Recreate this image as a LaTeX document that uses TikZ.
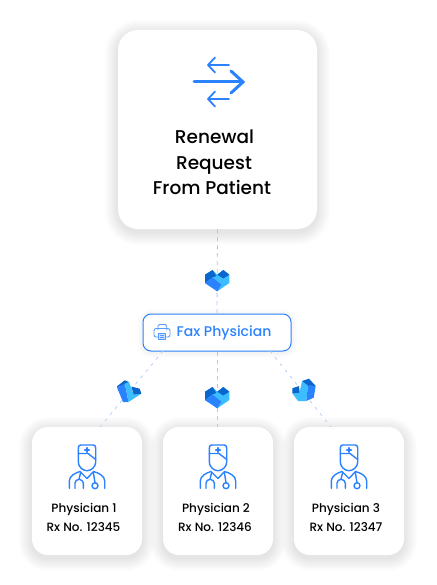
\documentclass[tikz,border=0pt]{standalone}
\usepackage{fontspec}
\setmainfont{Poppins}[UprightFont=* Medium]
\definecolor{brand}{HTML}{2B82FF}
\definecolor{dashc}{HTML}{ABCBF6}
\definecolor{hcyan}{HTML}{3BBDFF}
\definecolor{hdark}{HTML}{0A66CC}
\definecolor{ink}{HTML}{000000}
\tikzset{
  cardbox/.style={draw=none,fill=white,rounded corners=#1,inner sep=0pt},
  link/.style={draw=dashc,line width=0.8pt,dash pattern=on 4pt off 4pt},
  slant/.style={draw=dashc,line width=0.7pt,dash pattern=on 3pt off 5pt},
  iconline/.style={draw=brand,line width=1.4pt,line cap=round,line join=round},
  arrowsmall/.style={draw=brand,line width=1.8pt,line cap=round,line join=round},
  arrowbig/.style={draw=brand,line width=3pt,line cap=round,line join=miter},
  printerline/.style={draw=brand!80,line width=0.85pt,line join=round},
  bigtext/.style={font=\fontsize{18.5}{22}\selectfont,text=ink,inner sep=0pt,anchor=base},
  smalltext/.style={font=\fontsize{12}{14}\selectfont,text=ink,inner sep=0pt,anchor=base},
  pics/heart/.style={code={
    \fill[hcyan] (-4.7,-9)--(0,-4.3)--(6,-9)--(12,-4.3)--(12,4)--(0,12.3)--(-12.3,4)--(-12.3,-4.3)--cycle;
    \fill[hdark] (-12.3,-4.3)--(-4.7,-9)--(-1,-3)--(-5,-1.5)--(-12.3,4)--cycle;
    \fill[brand] (-12.3,4)--(-5,-1.5)--(4,5.5)--(0,12.3)--cycle;
    \fill[hdark] (0,-4.3)--(6,-9)--(12,-4.3)--(6,-0.5)--cycle;
  }},
  pics/heartleft/.style={code={
    \fill[hdark] (-12,-4.7)--(-4.3,-10.7)--(0,-9)--(-4,-7)--(-12,-3.5)--cycle;
    \fill[brand] (-12,-3.5)--(-4,-7)--(-0.5,11)--(-6,11)--cycle;
    \fill[hcyan] (-4,-7.5)--(0,-9)--(4.7,3.7)--(12.3,2.7)--(-0.5,11)--cycle;
    \fill[hdark] (2.3,-4.5)--(10.7,-2.3)--(12.3,2.7)--(4.7,3.7)--cycle;
  }},
  pics/heartright/.style={code={
    \fill[hcyan] (-2,-9)--(4,-5)--(2.3,11)--(-6,11)--(-11.7,3.3)--(-4.3,2.7)--cycle;
    \fill[brand] (4,-5)--(11.7,-4)--(9.7,7.7)--(2.3,11)--cycle;
    \fill[hdark] (-2,-9)--(5,-11.3)--(11.7,-4)--(4,-4.6)--cycle;
    \fill[hdark] (-11.7,-1.7)--(-5,-4)--(-4.3,2.7)--(-11.7,3.3)--cycle;
  }},
  pics/doctor/.style={code={
    \draw[iconline] (-8.7,-8) -- (-8.7,-22) .. controls (-8.7,-24.5) and (-7.5,-25) .. (-6,-25) -- (6,-25) .. controls (7.5,-25) and (8.7,-24.5) .. (8.7,-22) -- (8.7,-8)
       .. controls (8.7,-3) and (4,0.7) .. (0,0.7) .. controls (-4,0.7) and (-8.7,-3) .. (-8.7,-8);
    \draw[iconline] (-8.7,-16.5) -- (1,-16.5) -- (8.7,-10.5);
    \draw[iconline] (-2.3,-20) -- (2.3,-20) (0,-22.3) -- (0,-17.7);
    \draw[iconline] (-17.7,18.3) -- (-17.7,11) .. controls (-17.7,6) and (-12,3) .. (-7,1.5) -- (0,8.5) -- (6.5,1.5) .. controls (12,3) and (17.7,6) .. (17.7,11) -- (17.7,18.3);
    \draw[iconline] (-12,18.3) -- (-12,13) .. controls (-12,11) and (-10,9.3) .. (-8,9.3) .. controls (-6,9.3) and (-3.7,11) .. (-3.7,13) -- (-3.7,18.3);
    \draw[iconline] (-8,9.3) -- (-6.3,2.2);
    \draw[iconline] (6.3,2.2) -- (8,12.7);
    \draw[iconline] (8,15.7) circle (3);
  }},
  pics/printer/.style={code={
    \draw[printerline,rounded corners=1.5pt] (-4,-2) -- (-4,-7.5) -- (4.7,-7.5) -- (4.7,-2);
    \draw[printerline,rounded corners=2.2pt] (-3.5,5) -- (-8,5) -- (-8,-3.5) -- (8,-3.5) -- (8,5) -- (3.5,5);
    \draw[printerline,fill=brand!25] (-3.5,1) rectangle (3.5,7);
    \draw[printerline] (-1.8,3) -- (1.8,3) (-1.8,5) -- (1.8,5);
  }}
}
\begin{document}
\begin{tikzpicture}[x=1pt,y=-1pt]
\useasboundingbox (0,0) rectangle (436,585);
\fill[white] (0,0) rectangle (436,585);
% soft shadows
\foreach \k in {1,...,13}{
  \fill[black,opacity=0.0075,rounded corners={20pt+\k pt}] ({118-\k},{30-\k+3}) rectangle ({317+\k},{229+\k+3});
  \fill[black,opacity=0.0075,rounded corners={16pt+\k pt}] ({32-\k},{427-\k+3}) rectangle ({142+\k},{555+\k+3});
  \fill[black,opacity=0.0075,rounded corners={16pt+\k pt}] ({163-\k},{427-\k+3}) rectangle ({273+\k},{555+\k+3});
  \fill[black,opacity=0.0075,rounded corners={16pt+\k pt}] ({294-\k},{427-\k+3}) rectangle ({404+\k},{555+\k+3});
}
\foreach \k in {1,...,6}{
  \fill[black,opacity=0.006,rounded corners={8pt+\k pt}] ({143-\k},{314-\k+1}) rectangle ({291+\k},{351+\k+1});
}
% cards
\node[cardbox=20pt,fill=white,minimum width=199pt,minimum height=199pt] (main) at (217.5,129.5) {};
\node[cardbox=16pt,minimum width=110pt,minimum height=128pt] (c1) at (87,491) {};
\node[cardbox=16pt,minimum width=110pt,minimum height=128pt] (c2) at (218,491) {};
\node[cardbox=16pt,minimum width=110pt,minimum height=128pt] (c3) at (349,491) {};
\node[draw=brand,fill=white,line width=1pt,rounded corners=8pt,minimum width=148pt,minimum height=37pt,inner sep=0pt] (fax) at (217,332.5) {};
% connectors
\coordinate (fl) at (163,351);
\coordinate (fr) at (270,351);
\coordinate (cl) at (100,427);
\coordinate (cr) at (331,427);
\draw[link] (main.south) -- (fax.north);
\draw[link] (fax.south) -- (fax.south |- c2.north);
\draw[slant] (fl) -- (cl);
\draw[slant] (fr) -- (cr);
% tokens
\pic at (217.3,279) {heart};
\pic at (217.3,396) {heart};
\pic at (129,391) {heartleft};
\pic at (304,390) {heartright};
% arrows icon
\draw[arrowbig] (194,82) -- (241,82);
\draw[arrowbig] (231,71) -- (243,82) -- (231,93);
\draw[arrowsmall] (229,65) -- (208,65) (215,57.5) -- (208,65) -- (215,72.5);
\draw[arrowsmall] (229,99) -- (208,99) (215,91.5) -- (208,99) -- (215,106.5);
% texts
\node[bigtext] (t1) at (214.5,144) {Renewal};
\node[bigtext] (t2) at (214,169.5) {Request};
\node[bigtext] (t3) at (212,194) {From Patient};
\pic at (162,332) {printer};
\node[font=\fontsize{14}{16}\selectfont,text=brand,inner sep=0pt,anchor=base] (faxt) at (224,336.5) {Fax Physician};
\pic at (87,470) {doctor};
\pic at (218,470) {doctor};
\pic at (349,470) {doctor};
\node[smalltext] (p1) at (84,512.5) {Physician 1};
\node[smalltext] (r1) at (83.5,531) {Rx No. 12345};
\node[smalltext] (p2) at (216,512.5) {Physician 2};
\node[smalltext] (r2) at (215,531) {Rx No. 12346};
\node[smalltext] (p3) at (346,512.5) {Physician 3};
\node[smalltext] (r3) at (346,531) {Rx No. 12347};
\end{tikzpicture}
\end{document}
